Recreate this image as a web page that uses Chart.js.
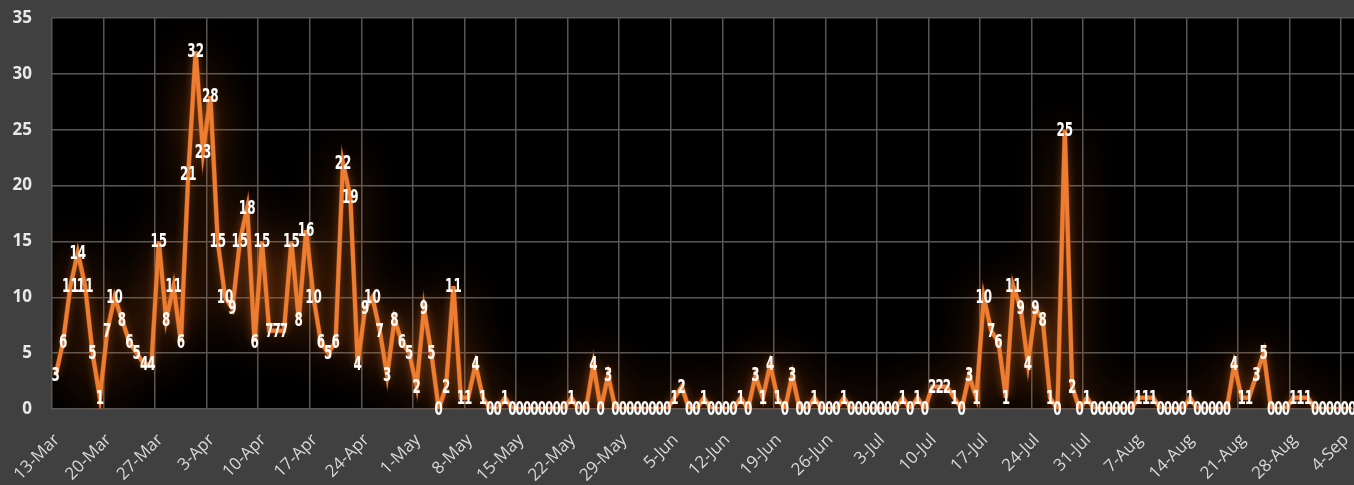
<!DOCTYPE html>
<html><head><meta charset="utf-8">
<script src="https://cdn.jsdelivr.net/npm/chart.js@4.4.0/dist/chart.umd.min.js"></script>
<style>html,body{margin:0;padding:0;background:#404040;overflow:hidden}canvas{display:block}</style>
</head><body>
<canvas id="c" width="1354" height="485"></canvas>
<script>
// ---- data ----
const startDay = {month: 2, day: 13}; // 13-Mar
const monthNames = ['Jan','Feb','Mar','Apr','May','Jun','Jul','Aug','Sep','Oct','Nov','Dec'];
const tickLabels = ['13-Mar','20-Mar','27-Mar','3-Apr','10-Apr','17-Apr','24-Apr','1-May','8-May','15-May','22-May','29-May','5-Jun','12-Jun','19-Jun','26-Jun','3-Jul','10-Jul','17-Jul','24-Jul','31-Jul','7-Aug','14-Aug','21-Aug','28-Aug','4-Sep'];
const yTicks = [0,5,10,15,20,25,30,35];
const dailyCases = [
  3,6,11,14,11,5,1,7,10,8,6,5,4,4,          // 13-Mar .. 26-Mar
  15,8,11,6,21,32,23,28,15,10,9,15,18,6,    // 27-Mar .. 9-Apr
  15,7,7,7,15,8,16,10,6,5,6,22,19,4,        // 10-Apr .. 23-Apr
  9,10,7,3,8,6,5,2,9,5,0,2,11,1,            // 24-Apr .. 7-May
  1,4,1,0,0,1,0,0,0,0,0,0,0,0,              // 8-May .. 21-May
  1,0,0,4,0,3,0,0,0,0,0,0,0,0,              // 22-May .. 4-Jun
  1,2,0,0,1,0,0,0,0,1,0,3,1,4,              // 5-Jun .. 18-Jun
  1,0,3,0,0,1,0,0,0,1,0,0,0,0,              // 19-Jun .. 2-Jul
  0,0,0,1,0,1,0,2,2,2,1,0,3,1,              // 3-Jul .. 16-Jul
  10,7,6,1,11,9,4,9,8,1,0,25,2,0,           // 17-Jul .. 30-Jul
  1,0,0,0,0,0,0,1,1,1,0,0,0,0,              // 31-Jul .. 13-Aug
  1,0,0,0,0,0,4,1,1,3,5,0,0,0,              // 14-Aug .. 27-Aug
  1,1,1,0,0,0,0,0,0                         // 28-Aug .. 5-Sep
];
// category labels (one per day)
const categories = [];
(function(){ const d = new Date(2020, startDay.month, startDay.day); for (let i=0;i<dailyCases.length;i++){ categories.push(d.getDate()+'-'+monthNames[d.getMonth()]); d.setDate(d.getDate()+1);} })();

const lineColor = '#ED7D31';

// ---- plugins ----
const bgPlugin = {
  id:'bg',
  beforeDraw(chart){
    const c = chart.ctx, a = chart.chartArea;
    c.save();
    c.fillStyle = '#404040';
    c.fillRect(0,0,chart.width,chart.height);
    c.fillStyle = '#000000';
    c.fillRect(a.left, a.top, a.right-a.left, a.bottom-a.top);
    c.restore();
  }
};
const glowPlugin = {
  id:'glow',
  beforeDatasetsDraw(chart){
    const c = chart.ctx, a = chart.chartArea;
    const pts = chart.getDatasetMeta(0).data;
    // wide soft halo following the library-computed points
    c.save();
    c.beginPath();
    c.rect(a.left, a.top, a.right - a.left, a.bottom - a.top);
    c.clip();
    c.shadowColor = 'rgba(200,90,20,0.75)';
    c.shadowBlur = 44;
    c.strokeStyle = 'rgba(120,55,15,1)';
    c.lineWidth = 5;
    c.lineJoin = 'miter';
    c.beginPath();
    pts.forEach((p, i) => { if (i === 0) c.moveTo(p.x, p.y); else c.lineTo(p.x, p.y); });
    c.stroke();
    c.restore();
    // subtle near glow for the library's own line
    c.save();
    c.shadowColor = 'rgba(237,125,49,0.45)';
    c.shadowBlur = 8;
  },
  afterDatasetsDraw(chart){
    const c = chart.ctx;
    c.restore();
    const meta = chart.getDatasetMeta(0);
    c.save();
    c.fillStyle = '#ffffff';
    c.font = 'bold 19px "DejaVu Sans Condensed", "DejaVu Sans", sans-serif';
    c.textAlign = 'center';
    c.textBaseline = 'middle';
    meta.data.forEach((pt, i) => {
      c.save();
      c.translate(pt.x, pt.y + 1);
      c.scale(0.7, 1);
      c.fillText(String(dailyCases[i]), 0, 0);
      c.restore();
    });
    c.restore();
  }
};

const gridColor = '#575757';
new Chart(document.getElementById('c').getContext('2d'), {
  type: 'line',
  data: {
    labels: categories,
    datasets: [{
      // each day sits in the middle of its day slot (between tick marks)
      data: dailyCases.map((v, i) => ({x: i + 0.5, y: v})),
      borderColor: lineColor,
      borderWidth: 4,
      pointRadius: 0,
      tension: 0,
      fill: false
    }]
  },
  options: {
    responsive: false,
    animation: false,
    devicePixelRatio: 1,
    layout: {padding: {top: 18, left: 0, right: 0, bottom: 0}},
    plugins: {legend: {display: false}, tooltip: {enabled: false}},
    scales: {
      x: {
        type: 'linear',
        min: 0,
        max: 176.76,
        grid: {color: gridColor, lineWidth: 1.5, drawTicks: false},
        border: {display: false},
        ticks: {
          stepSize: 7,
          autoSkip: false,
          includeBounds: false,
          maxRotation: 45,
          minRotation: 45,
          padding: 21,
          labelOffset: 5,
          color: '#d9d9d9',
          font: {family: 'Open Sans', size: 17},
          callback: (v) => (v % 7 === 0 && tickLabels[v / 7] !== undefined) ? tickLabels[v / 7] : null
        },
        afterFit(s){ s.height = 76; s.paddingLeft = 0; s.paddingRight = 0; }
      },
      y: {
        min: 0,
        max: 35,
        grid: {color: gridColor, lineWidth: 1.5, drawTicks: false},
        border: {display: false},
        ticks: {
          stepSize: 5,
          padding: 20,
          color: '#e8e8e8',
          font: {family: 'Open Sans', size: 17, weight: 'bold'},
          callback: (v) => yTicks.includes(v) ? String(v) : null
        },
        afterFit(s){ s.width = 52; s.paddingTop = 0; s.paddingBottom = 0; }
      }
    }
  },
  plugins: [bgPlugin, glowPlugin]
});
</script>
</body></html>
